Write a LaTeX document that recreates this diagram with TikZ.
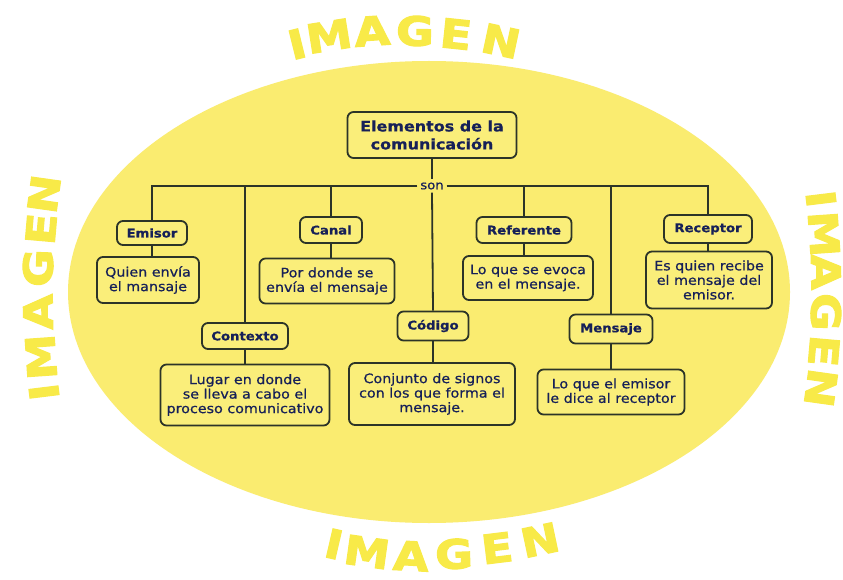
\documentclass[tikz,border=0pt]{standalone}
\usepackage{fontspec}
\setmainfont{DejaVu Sans}[FakeStretch=1.1]
\newfontfamily\imgfont{DejaVu Sans}[FakeBold=3, FakeStretch=1.15]
\newfontfamily\boxfont{DejaVu Sans}[FakeStretch=1.1, FakeBold=0.7]
\definecolor{ellc}{RGB}{250,236,112}
\definecolor{boxc}{RGB}{250,238,122}
\definecolor{imgc}{RGB}{248,234,72}
\definecolor{bord}{RGB}{44,52,40}
\definecolor{txtc}{RGB}{22,32,88}
\tikzset{
  imgl/.style={font=\imgfont\bfseries\fontsize{40}{40}\selectfont, text=imgc, inner sep=0pt, anchor=center},
  box/.style={draw=bord, fill=boxc, line width=1.8pt, rounded corners=6pt, inner sep=0pt, align=center, text=txtc},
  ttl/.style={box, font=\boxfont\bfseries\fontsize{12}{14}\selectfont},
  dsc/.style={box, font=\boxfont\fontsize{13}{14.5}\selectfont},
  conn/.style={draw=bord, line width=1.8pt},
}
\begin{document}
\begin{tikzpicture}[x=1pt,y=-1pt]
\useasboundingbox (0,0) rectangle (843,580);
\clip (0,0) rectangle (843,580);
\fill[white] (0,0) rectangle (843,580);
\fill[ellc] (429,292) ellipse [x radius=361, y radius=231];

% IMAGEN top
\node[imgl, rotate=14] (t1) at (297,44) {I};
\node[imgl, rotate=9]  (t2) at (329,36) {M};
\node[imgl, rotate=4]  (t3) at (372,31) {A};
\node[imgl, rotate=-1] (t4) at (415,31) {G};
\node[imgl, rotate=-6] (t5) at (456,34) {E};
\node[imgl, rotate=-12] (t6) at (501,41) {N};
% IMAGEN bottom
\node[imgl, rotate=-13] (b1) at (334,544) {I};
\node[imgl, rotate=-8]  (b2) at (367,552) {M};
\node[imgl, rotate=-3]  (b3) at (411,556) {A};
\node[imgl, rotate=2]   (b4) at (454,554) {G};
\node[imgl, rotate=7]   (b5) at (497,548) {E};
\node[imgl, rotate=12]  (b6) at (540,540) {N};
% IMAGEN left
\node[imgl, rotate=97] (l1) at (44,392) {I};
\node[imgl, rotate=94] (l2) at (41,357) {M};
\node[imgl, rotate=91] (l3) at (38,312) {A};
\node[imgl, rotate=88] (l4) at (38,268) {G};
\node[imgl, rotate=85] (l5) at (41,229) {E};
\node[imgl, rotate=82] (l6) at (44,194) {N};
% IMAGEN right
\node[imgl, rotate=-83] (r1) at (821,199) {I};
\node[imgl, rotate=-86] (r2) at (824,234) {M};
\node[imgl, rotate=-89] (r3) at (826,272) {A};
\node[imgl, rotate=-92] (r4) at (826,312) {G};
\node[imgl, rotate=-95] (r5) at (824,351) {E};
\node[imgl, rotate=-98] (r6) at (821,388) {N};

% boxes
\node[box, font=\boxfont\bfseries\fontsize{14.5}{18}\selectfont, minimum width=169pt, minimum height=46pt] (root) at (432,135) {Elementos de la\\comunicación};
\node[inner sep=3pt, text=txtc, font=\boxfont\fontsize{12}{12}\selectfont] (son) at (432,186) {son};

\node[ttl, minimum width=70pt, minimum height=24pt] (emisor) at (152,233) {Emisor};
\node[dsc, minimum width=102pt, minimum height=46pt] (emisord) at (148,280) {Quien envía\\el mansaje};
\node[ttl, minimum width=62pt, minimum height=26pt] (canal) at (331,230) {Canal};
\node[dsc, minimum width=135pt, minimum height=45pt] (canald) at (327,281) {Por donde se\\envía el mensaje};
\node[ttl, minimum width=95pt, minimum height=26pt] (referente) at (524,230) {Referente};
\node[dsc, minimum width=130pt, minimum height=44pt] (referented) at (528,278) {Lo que se evoca\\en el mensaje.};
\node[ttl, minimum width=88pt, minimum height=28pt] (receptor) at (708,229) {Receptor};
\node[dsc, minimum width=126pt, minimum height=57pt] (receptord) at (709,280) {Es quien recibe\\el mensaje del\\emisor.};
\node[ttl, minimum width=86pt, minimum height=26pt] (contexto) at (245,336) {Contexto};
\node[dsc, minimum width=169pt, minimum height=61pt] (contextod) at (245,395) {Lugar en donde\\se lleva a cabo el\\proceso comunicativo};
\node[ttl, minimum width=71pt, minimum height=29pt] (codigo) at (433,326) {Código};
\node[dsc, minimum width=166pt, minimum height=62pt] (codigod) at (432,394) {Conjunto de signos\\con los que forma el\\mensaje.};
\node[ttl, minimum width=83pt, minimum height=29pt] (mensaje) at (611,329) {Mensaje};
\node[dsc, minimum width=147pt, minimum height=45pt] (mensajed) at (611,392) {Lo que el emisor\\le dice al receptor};

% connectors
\draw[conn] (root.south) -- (son.north);
\draw[conn] (son.west) -| (emisor.north);
\draw[conn] (son.west) -| (contexto.north);
\draw[conn] (son.west) -| (canal.north);
\draw[conn] (son.east) -| (referente.north);
\draw[conn] (son.east) -| (mensaje.north);
\draw[conn] (son.east) -| (receptor.north);
\draw[conn] (son.south) -- (codigo.north);

\draw[conn] (emisor.south) -- (emisor.south |- emisord.north);
\draw[conn] (canal.south) -- (canal.south |- canald.north);
\draw[conn] (referente.south) -- (referente.south |- referented.north);
\draw[conn] (receptor.south) -- (receptor.south |- receptord.north);
\draw[conn] (contexto.south) -- (contexto.south |- contextod.north);
\draw[conn] (codigo.south) -- (codigo.south |- codigod.north);
\draw[conn] (mensaje.south) -- (mensaje.south |- mensajed.north);
\end{tikzpicture}
\end{document}
